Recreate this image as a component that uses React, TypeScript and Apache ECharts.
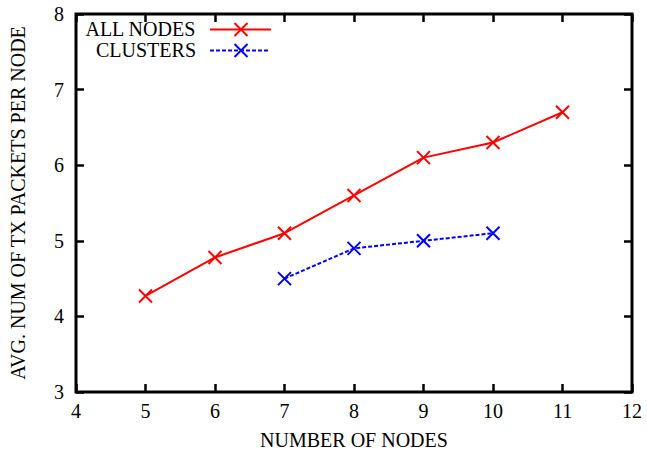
import React, { useEffect, useRef } from "react";
import * as echarts from "echarts";

const allNodesX = [5, 6, 7, 8, 9, 10, 11];
const allNodesY = [4.27, 4.78, 5.1, 5.6, 6.1, 6.3, 6.7];
const clustersX = [7, 8, 9, 10];
const clustersY = [4.5, 4.9, 5.0, 5.1];
const seriesNames = ["ALL NODES", "CLUSTERS"];
const xTitle = "NUMBER OF NODES";
const yTitle = "AVG. NUM OF TX PACKETS PER NODE";

const FONT = "'Liberation Serif', 'DejaVu Serif', serif";
const CROSS = "path://M0,0L10,10M10,0L0,10";

export default function App() {
  const ref = useRef<HTMLDivElement>(null);
  useEffect(() => {
    if (!ref.current) return;
    const chart = echarts.init(ref.current, null, { renderer: "svg" });
    const tickCommon = { inside: true, length: 8, lineStyle: { color: "#000", width: 2.5 } };
    const crossStyle = (c: string) => ({ color: "none", borderColor: c, borderWidth: 2 });
    chart.setOption({
      animation: false,
      backgroundColor: "#fff",
      grid: { left: 75, right: 15, top: 14, bottom: 63, show: true, borderColor: "#000", borderWidth: 3 },
      xAxis: [
        {
          type: "value", min: 4, max: 12, interval: 1,
          name: xTitle, nameLocation: "middle", nameGap: 38,
          nameTextStyle: { fontFamily: FONT, fontSize: 20, color: "#000" },
          axisLine: { show: false },
          axisTick: tickCommon,
          axisLabel: { fontFamily: FONT, fontSize: 20, color: "#000", margin: 9 },
          splitLine: { show: false },
        },
        {
          type: "value", min: 4, max: 12, interval: 1, position: "top",
          axisLine: { show: false }, axisTick: tickCommon, axisLabel: { show: false }, splitLine: { show: false },
        },
      ],
      yAxis: [
        {
          type: "value", min: 3, max: 8, interval: 1,
          name: yTitle, nameLocation: "middle", nameGap: 48,
          nameTextStyle: { fontFamily: FONT, fontSize: 20, color: "#000" },
          axisLine: { show: false },
          axisTick: tickCommon,
          axisLabel: { fontFamily: FONT, fontSize: 20, color: "#000", margin: 12 },
          splitLine: { show: false },
        },
        {
          type: "value", min: 3, max: 8, interval: 1, position: "right",
          axisLine: { show: false }, axisTick: tickCommon, axisLabel: { show: false }, splitLine: { show: false },
        },
      ],
      series: [
        {
          name: seriesNames[0], type: "line",
          data: allNodesX.map((x, i) => [x, allNodesY[i]]),
          symbol: CROSS, symbolSize: 13, showAllSymbol: true,
          lineStyle: { color: "#ff0000", width: 2 },
          itemStyle: crossStyle("#ff0000"),
        },
        {
          name: seriesNames[1], type: "line",
          data: clustersX.map((x, i) => [x, clustersY[i]]),
          symbol: CROSS, symbolSize: 13, showAllSymbol: true,
          lineStyle: { color: "#0000ff", width: 2, type: [4, 2] },
          itemStyle: crossStyle("#0000ff"),
        },
      ],
      graphic: [
        { type: "text", right: 647 - 196, top: 19, style: { text: seriesNames[0], font: `20px ${FONT}`, fill: "#000" } },
        { type: "text", right: 647 - 196, top: 40, style: { text: seriesNames[1], font: `20px ${FONT}`, fill: "#000" } },
        { type: "line", shape: { x1: 210, y1: 29.5, x2: 271, y2: 29.5 }, style: { stroke: "#ff0000", lineWidth: 2 } },
        { type: "line", shape: { x1: 234.5, y1: 23, x2: 247.5, y2: 36 }, style: { stroke: "#ff0000", lineWidth: 2 } },
        { type: "line", shape: { x1: 247.5, y1: 23, x2: 234.5, y2: 36 }, style: { stroke: "#ff0000", lineWidth: 2 } },
        { type: "line", shape: { x1: 210, y1: 50.5, x2: 269, y2: 50.5 }, style: { stroke: "#0000ff", lineWidth: 2, lineDash: [4, 2] } },
        { type: "line", shape: { x1: 234.5, y1: 44, x2: 247.5, y2: 57 }, style: { stroke: "#0000ff", lineWidth: 2 } },
        { type: "line", shape: { x1: 247.5, y1: 44, x2: 234.5, y2: 57 }, style: { stroke: "#0000ff", lineWidth: 2 } },
      ],
    });
    return () => chart.dispose();
  }, []);
  return <div ref={ref} style={{ width: 647, height: 455, position: "absolute", left: 0, top: 0 }} />;
}
